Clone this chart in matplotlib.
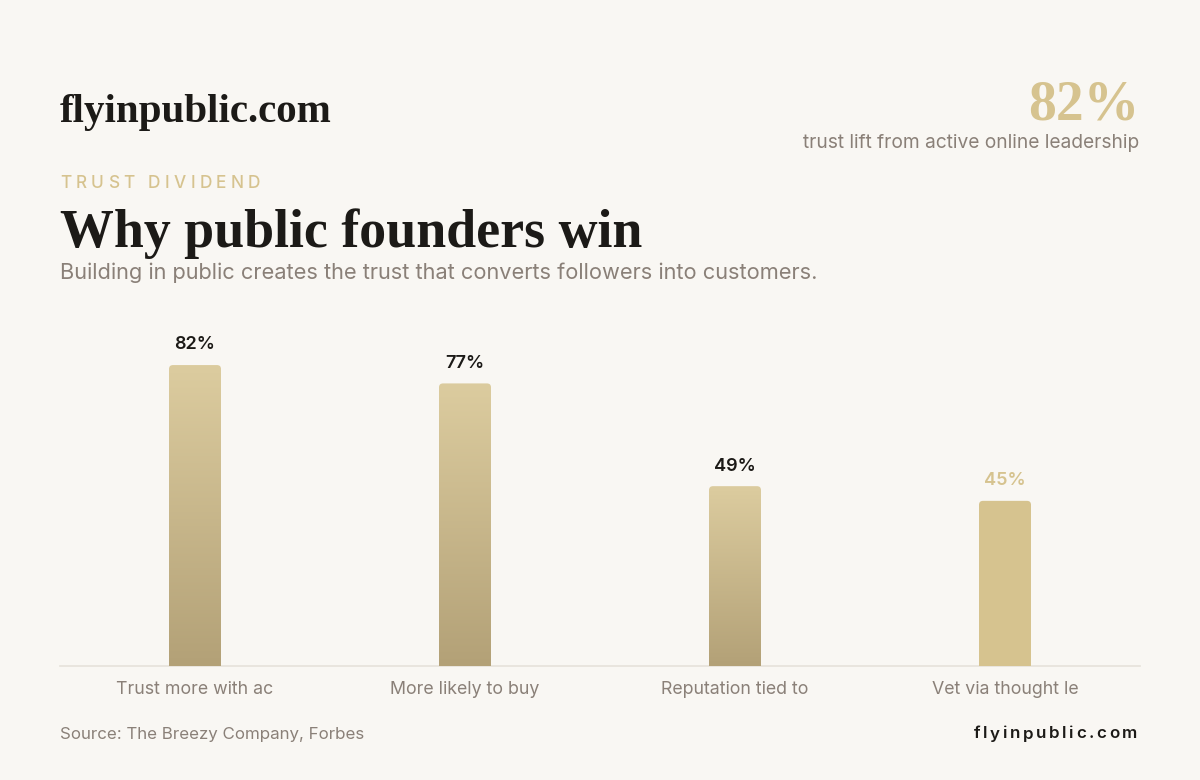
import numpy as np
import matplotlib.pyplot as plt
from matplotlib.patches import FancyBboxPatch
from matplotlib.colors import LinearSegmentedColormap

# data
categories = ["Trust more with ac", "More likely to buy", "Reputation tied to", "Vet via thought le"]
values = [82, 77, 49, 45]
value_labels = ["82%", "77%", "49%", "45%"]
gradient_bar = [True, True, True, False]

BG = "#f9f7f3"
INK = "#1c1a17"
GOLD = "#d6c38f"
MUTED = "#8a8078"
SANS = ["Inter", "DejaVu Sans"]
SERIF = ["Liberation Serif", "DejaVu Serif"]

W, H = 1200, 780


def fx(px):
    return px / W


def fy(py):
    return 1 - py / H


fig = plt.figure(figsize=(12, 7.8), dpi=100, facecolor=BG)
renderer = fig.canvas.get_renderer()


def spaced_text(x, y, s, spacing, ha="left", **kw):
    # letter-spaced text, one char at a time (pixel coords)
    widths = []
    for ch in s:
        t = fig.text(0, 0, ch if ch != " " else "n", **kw)
        w = t.get_window_extent(renderer).width
        t.remove()
        widths.append(w * (0.45 if ch == " " else 1.0))
    total = sum(widths) + spacing * (len(s) - 1)
    cur = x - total if ha == "right" else x
    for ch, w in zip(s, widths):
        if ch != " ":
            fig.text(fx(cur), fy(y), ch, ha="left", va="center", **kw)
        cur += w + spacing


# header
fig.text(fx(60), fy(122), "flyinpublic.com", family=SERIF, weight="bold",
         fontsize=29.5, color=INK, ha="left", va="baseline")
fig.text(fx(1139), fy(120), "82%", family=SERIF, weight="bold",
         fontsize=40, color=GOLD, ha="right", va="baseline")
fig.text(fx(1139), fy(143), "trust lift from active online leadership", family=SANS,
         fontsize=13.8, color=MUTED, ha="right", va="center")

spaced_text(60, 183, "TRUST DIVIDEND", 4.3, family=SANS, weight="medium",
            fontsize=12.4, color=GOLD)
fig.text(fx(60), fy(247), "Why public founders win", family=SERIF, weight="bold",
         fontsize=38.8, color=INK, ha="left", va="baseline")
fig.text(fx(60), fy(273), "Building in public creates the trust that converts followers into customers.",
         family=SANS, fontsize=15.7, color=MUTED, ha="left", va="center")

# chart
ax = fig.add_axes([fx(60), fy(666), 1080 / W, 367 / H])
ax.set_facecolor("none")
ax.set_xlim(-0.5, len(values) - 0.5)
ax.set_ylim(0, 100)
ax.axis("off")
ax.plot([-0.5, len(values) - 0.5], [0, 0], color="#e6e2da", lw=1.2, clip_on=False, zorder=1)

px_x = 1080 / len(values)
px_y = 367 / 100
bar_w = 52 / px_x
radius = 4 / px_x
aspect = (1 / px_y) / (1 / px_x)

cmap = LinearSegmentedColormap.from_list("bar", ["#b3a177", "#dccc9f"])
grad = np.linspace(0, 1, 256).reshape(-1, 1)

for i, v in enumerate(values):
    x0 = i - bar_w / 2
    clip = FancyBboxPatch((x0, -5), bar_w, v + 5,
                          boxstyle=f"round,pad=0,rounding_size={radius}",
                          mutation_aspect=aspect, facecolor="none", edgecolor="none",
                          transform=ax.transData)
    ax.add_patch(clip)
    if gradient_bar[i]:
        im = ax.imshow(grad, cmap=cmap, origin="lower", aspect="auto",
                       extent=[x0, x0 + bar_w, 0, v], interpolation="bilinear", zorder=2)
        im.set_clip_path(clip)
        lab_color = INK
    else:
        clip.set_facecolor(GOLD)
        clip.set_zorder(2)
        lab_color = GOLD
    ax.annotate(value_labels[i], (i, v), xytext=(0, 14.5), textcoords="offset points",
                ha="center", va="center", family=SANS, weight="semibold",
                fontsize=13, color=lab_color)
    fig.text(fx(60 + px_x * (i + 0.5)), fy(690), categories[i], family=SANS,
             fontsize=12.8, color=MUTED, ha="center", va="center")

ax.set_ylim(0, 100)
ax.set_xlim(-0.5, len(values) - 0.5)

# footer
fig.text(fx(60), fy(734), "Source: The Breezy Company, Forbes", family=SANS,
         fontsize=12.2, color=MUTED, ha="left", va="center")
spaced_text(1137, 734, "flyinpublic.com", 2.6, ha="right", family=SANS,
            weight="semibold", fontsize=12.2, color=INK)

fig.savefig("out.png", dpi=100, facecolor=BG)
